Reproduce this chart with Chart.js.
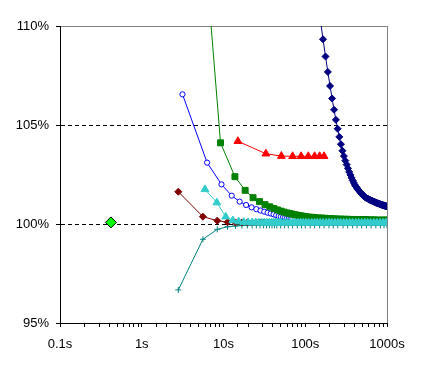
<!DOCTYPE html>
<html>
<head>
<meta charset="utf-8">
<script src="https://cdn.jsdelivr.net/npm/chart.js@4.4.1/dist/chart.umd.min.js"></script>
<style>
	html, body { margin: 0; padding: 0; background: #fff; }
	canvas { display: block; }
</style>
</head>
<body>
<canvas id="convergence-chart" width="421" height="369"></canvas>
<script>
;( function () {
	'use strict';

	// Axis labels
	const xTickLabels = ['0.1s', '1s', '10s', '100s', '1000s'];
	const yTickValues = [95, 100, 105, 110];

	// Navy diamonds
	const navyTimes = [153,165,177,189,201,213,225,237,249,261,273,285,297,309,321,333,345,357,369,381,393,405,417,429,441,453,465,477,489,501,513,525,537,549,561,573,585,597,609,621,633,645,657,669,681,693,705,717,729,741,753,765,777,789,801,813,825,837,849,861,873,885,897,909,921,933,945,957,969,981,993];
	const navyValues = [110.31,109.33,108.46,107.68,106.97,106.34,105.77,105.26,104.81,104.40,104.03,103.70,103.43,103.20,103.00,102.81,102.63,102.48,102.33,102.20,102.08,101.97,101.89,101.82,101.75,101.69,101.63,101.58,101.53,101.48,101.44,101.40,101.36,101.33,101.31,101.29,101.27,101.25,101.23,101.21,101.20,101.18,101.17,101.15,101.14,101.12,101.11,101.10,101.08,101.07,101.06,101.05,101.04,101.03,101.02,101.01,101.00,100.99,100.98,100.97,100.96,100.95,100.95,100.94,100.93,100.92,100.92,100.91,100.90,100.90,100.89];

	// Red triangles
	const redTimes = [15,33,51,70,89,109,130,150,170];
	const redValues = [104.18,103.55,103.43,103.42,103.42,103.42,103.42,103.42,103.42];

	// Green squares
	const greenTimes = [4.6,9.2,13.8,18.4,23,27.6,32.2,36.8,41.4,46,50.6,55.2,59.8,64.4,69,73.6,78.2,82.8,87.4,92,96.6,101,110,120,130,145,160,175,190,210,230,250,275,300,330,360,400,440,480,530,580,640,700,770,850,920,1000];
	const greenValues = [119.5,104.1,102.39,101.70,101.33,101.13,100.98,100.87,100.78,100.71,100.65,100.60,100.56,100.53,100.50,100.47,100.45,100.43,100.41,100.40,100.38,100.37,100.35,100.34,100.33,100.31,100.30,100.29,100.28,100.27,100.26,100.25,100.25,100.24,100.24,100.23,100.23,100.22,100.22,100.22,100.21,100.21,100.21,100.20,100.20,100.20,100.20];

	// Blue open circles
	const blueTimes = [3.15,6.3,9.45,12.6,15.75,18.9,22.05,25.2,28.35,31.5,34.65,37.8,40.95,44.1,47.25,50.4,53.55,56.7,59.85,63,66.15,69.3,75,82,90,100,110,120,135,150,165,180,200,220,245,270,300,330,365,400,440,485,530,570];
	const blueValues = [106.55,103.1,102.0,101.43,101.13,100.96,100.84,100.75,100.68,100.62,100.57,100.53,100.49,100.44,100.40,100.37,100.35,100.33,100.31,100.30,100.29,100.28,100.28,100.27,100.27,100.27,100.27,100.26,100.26,100.26,100.26,100.26,100.26,100.26,100.25,100.25,100.25,100.25,100.25,100.25,100.25,100.25,100.25,100.25];

	// Maroon diamonds and teal crosses (same sample times)
	const stepTimes = [2.8,5.6,8.4,11.2,14,16.8,19.6,22.4,25.2,28,30.8,33.6,36.4,39.2,42,44.8,50,56,62,70,80,90,100,115,130,150,170,195,220,250,290,330,380,430,490,560,640,730,830,920,1000];
	const maroonValues = [101.63,100.37,100.17,100.09,100.08,100.08,100.08,100.08,100.08,100.08,100.08,100.08,100.08,100.08,100.08,100.08,100.08,100.08,100.08,100.08,100.08,100.08,100.08,100.08,100.08,100.08,100.08,100.08,100.08,100.08,100.08,100.08,100.08,100.08,100.08,100.08,100.08,100.08,100.08,100.08,100.08];
	const tealValues = [96.67,99.23,99.73,99.86,99.90,99.92,99.93,99.93,99.93,99.93,99.93,99.93,99.93,99.93,99.93,99.93,99.93,99.93,99.93,99.93,99.93,99.93,99.93,99.93,99.93,99.93,99.93,99.93,99.93,99.93,99.93,99.93,99.93,99.93,99.93,99.93,99.93,99.93,99.93,99.93,99.93];

	// Cyan triangles
	const cyanTimes = [5.94,8.29,10.64,12.99,15.34,17.69,20.04,22.39,24.74,27.09,29.44,31.79,34.14,36.49,38.84,41.19,43.54,45.89,48.24,50.59,55,60,65,70,76,82,88,95,102,110,120,130,140,152,165,180,195,210,230,250,270,295,320,350,380,415,450,490,535,580,630,690,750,820,890,960,1000];
	const cyanValues = [101.75,101.08,100.37,100.18,100.12,100.09,100.08,100.07,100.07,100.06,100.06,100.06,100.06,100.06,100.06,100.06,100.06,100.06,100.06,100.06,100.06,100.06,100.06,100.06,100.06,100.06,100.06,100.06,100.06,100.06,100.06,100.06,100.06,100.06,100.06,100.06,100.06,100.06,100.06,100.06,100.06,100.06,100.06,100.06,100.06,100.06,100.06,100.06,100.06,100.06,100.06,100.06,100.06,100.06,100.06,100.06,100.06];

	// Single lime point
	const limeTimes = [0.42];
	const limeValues = [100.08];

	function toPoints( times, values ){
		return times.map( function( t, i ){
			return { x: t, y: values[i] };
		});
	}

	function series( label, times, values, color, style ){
		return Object.assign({
			label: label,
			data: toPoints( times, values ),
			borderColor: color,
			backgroundColor: color,
			pointBackgroundColor: color,
			pointBorderColor: color,
			borderWidth: 1,
			pointBorderWidth: 1,
			tension: 0,
		}, style );
	}

	// First dataset ends up on top
	const datasets = [
		series('Navy', navyTimes, navyValues, '#000080', { pointStyle: 'rectRot', pointRadius: 3.5 }),
		series('Cyan', cyanTimes, cyanValues, '#33cccc', { pointStyle: 'triangle', pointRadius: 4.5 }),
		series('Green', greenTimes, greenValues, '#008000', { pointStyle: 'rect', pointRadius: 4.2 }),
		series('Blue', blueTimes, blueValues, '#0000ff', { pointStyle: 'circle', pointRadius: 2.6, pointBackgroundColor: '#ffffff' }),
		series('Red', redTimes, redValues, '#ff0000', { pointStyle: 'triangle', pointRadius: 4.5 }),
		series('Maroon', stepTimes, maroonValues, '#800000', { pointStyle: 'rectRot', pointRadius: 3.5 }),
		series('Teal', stepTimes, tealValues, '#008080', { pointStyle: 'cross', pointRadius: 3 }),
		series('Lime', limeTimes, limeValues, '#00ff00', { pointStyle: 'rectRot', pointRadius: 5.5, pointBorderColor: '#000000', showLine: false }),
	];

	Chart.defaults.font.family = "'Liberation Sans', Arial, sans-serif";
	Chart.defaults.font.size = 13;
	Chart.defaults.color = '#000000';

	new Chart(document.getElementById('convergence-chart'), {
		type: 'line',
		data: { datasets: datasets },
		options: {
			responsive: false,
			animation: false,
			layout: {
				padding: { top: 26, right: 34, left: 0, bottom: 0 }
			},
			plugins: {
				legend: { display: false },
				tooltip: { enabled: false },
			},
			scales: {
				x: {
					type: 'logarithmic',
					min: 0.1,
					max: 1000,
					afterFit: function( scale ){ scale.height = 46; },
					border: { color: '#000000', width: 1 },
					grid: {
						drawOnChartArea: true,
						tickLength: 4,
						tickColor: '#000000',
						color: function( ctx ){
							return ( ctx.tick && Math.abs(ctx.tick.value - 1000) < 1e-6 ) ? '#808080' : 'rgba(0,0,0,0)';
						},
					},
					ticks: {
						autoSkip: false,
						maxRotation: 0,
						padding: 10,
						callback: function( value ){
							const exp = Math.log10(value);
							if( Math.abs(exp - Math.round(exp)) < 1e-6 ){
								return xTickLabels[Math.round(exp) + 1];
							}
							return '';
						}
					}
				},
				y: {
					min: yTickValues[0],
					max: yTickValues[yTickValues.length - 1],
					afterFit: function( scale ){ scale.width = 60; },
					border: {
						color: '#000000',
						width: 1,
						dash: function( ctx ){
							return ( ctx.tick && ctx.tick.value === 110 ) ? [] : [4, 3];
						},
					},
					grid: {
						tickLength: 4,
						tickColor: '#000000',
						color: function( ctx ){
							if( !ctx.tick ) return '#000000';
							if( ctx.tick.value === 110 ) return '#808080';
							if( ctx.tick.value === 95 ) return 'rgba(0,0,0,0)';
							return '#000000';
						},
					},
					ticks: {
						stepSize: 5,
						padding: 7,
						callback: function( value ){
							return value + '%';
						}
					}
				}
			}
		}
	});
} )();
</script>
</body>
</html>
